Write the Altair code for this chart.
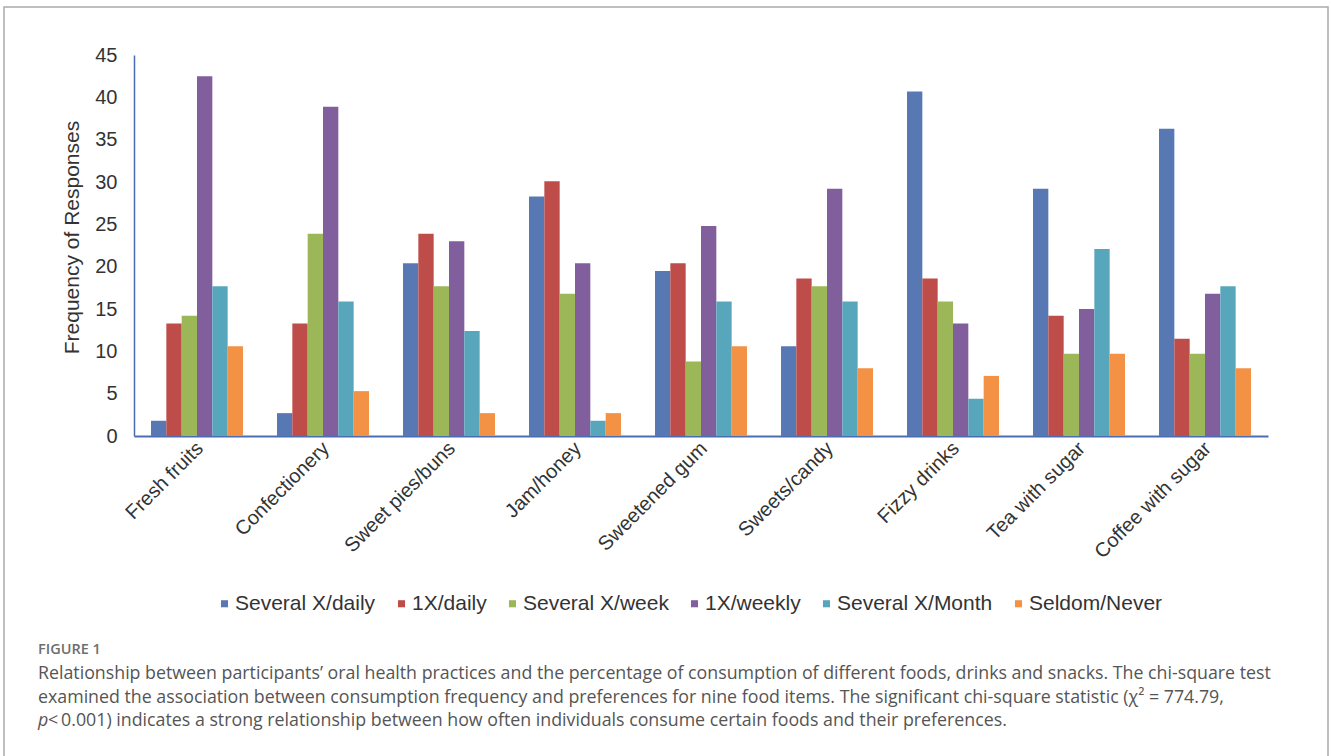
import altair as alt
import pandas as pd

foods = ["Fresh fruits", "Confectionery", "Sweet pies/buns", "Jam/honey", "Sweetened gum",
         "Sweets/candy", "Fizzy drinks", "Tea with sugar", "Coffee with sugar"]
frequencies = ["Several X/daily", "1X/daily", "Several X/week", "1X/weekly",
               "Several X/Month", "Seldom/Never"]

several_daily = [1.8, 2.7, 20.4, 28.3, 19.5, 10.6, 40.7, 29.2, 36.3]
once_daily = [13.3, 13.3, 23.9, 30.1, 20.4, 18.6, 18.6, 14.2, 11.5]
several_week = [14.2, 23.9, 17.7, 16.8, 8.8, 17.7, 15.9, 9.7, 9.7]
once_weekly = [42.5, 38.9, 23.0, 20.4, 24.8, 29.2, 13.3, 15.0, 16.8]
several_month = [17.7, 15.9, 12.4, 1.8, 15.9, 15.9, 4.4, 22.1, 17.7]
seldom_never = [10.6, 5.3, 2.7, 2.7, 10.6, 8.0, 7.1, 9.7, 8.0]

y_ticks = [0, 5, 10, 15, 20, 25, 30, 35, 40, 45]

colors = ["#5878B4", "#BE4D4A", "#9BB757", "#805F9C", "#58A6BC", "#F39145"]

fig_label = "FIGURE 1"
caption_line1 = ("Relationship between participants\u2019 oral health practices and the percentage of "
                 "consumption of different foods, drinks and snacks. The chi-square test")
caption_line2 = ("examined the association between consumption frequency and preferences for nine "
                 "food items. The significant chi-square statistic (\u03c7\u00b2 = 774.79,")
caption_line3_p = "p"
caption_line3 = ("\u2009<\u20090.001) indicates a strong relationship between how often individuals "
                 "consume certain foods and their preferences.")

series = [several_daily, once_daily, several_week, once_weekly, several_month, seldom_never]
rows = []
for freq, vals in zip(frequencies, series):
    for food, v in zip(foods, vals):
        rows.append({"food": food, "freq": freq, "value": v})
df = pd.DataFrame(rows)

AX = "#4A6DB3"
FONT = "Liberation Sans"
CAP_FONT = "Open Sans"

bars = alt.Chart(df).mark_bar().encode(
    x=alt.X("food:N", sort=foods, title=None,
            scale=alt.Scale(paddingInner=0.27, paddingOuter=0.135),
            axis=alt.Axis(labelAngle=-45, labelAlign="right", labelBaseline="middle",
                          labelFontSize=20, labelFont=FONT, labelColor="#333333",
                          labelPadding=9, labelOffset=3, ticks=False,
                          domainColor=AX, domainWidth=2, grid=False, labelLimit=300)),
    xOffset=alt.XOffset("freq:N", sort=frequencies, scale=alt.Scale(paddingInner=0)),
    y=alt.Y("value:Q", title="Frequency of Responses",
            scale=alt.Scale(domain=[0, 45], nice=False),
            axis=alt.Axis(values=y_ticks, ticks=False, grid=False, domainColor=AX,
                          domainWidth=1.5, labelFontSize=20, labelFont=FONT,
                          labelColor="#333333", labelPadding=17, titleFont=FONT,
                          titleFontSize=21, titleFontWeight="normal", titleColor="#333333",
                          titlePadding=12, titleY=182)),
    color=alt.Color("freq:N", sort=frequencies,
                    scale=alt.Scale(domain=frequencies, range=colors),
                    legend=alt.Legend(title=None, orient="none", direction="horizontal",
                                      legendX=80, legendY=538, symbolType="square",
                                      symbolSize=50, symbolStrokeWidth=0,
                                      labelFontSize=21, labelFont=FONT,
                                      labelColor="#333333", labelOffset=0,
                                      columnPadding=15, padding=0, labelLimit=400)),
)

one = pd.DataFrame({"t": [""]})

frame = alt.Chart(one).mark_rect(filled=False, stroke="#AAAAAA", strokeWidth=1.5).encode(
    x=alt.value(-130), x2=alt.value(1194), y=alt.value(-48), y2=alt.value(730))


def text_layer(txt, x, y, size, color, weight="normal", style="normal"):
    return alt.Chart(pd.DataFrame({"t": [txt]})).mark_text(
        align="left", baseline="middle", font=CAP_FONT, fontSize=size, color=color,
        fontWeight=weight, fontStyle=style).encode(
        text="t:N", x=alt.value(x), y=alt.value(y))


cap_x = 38 - 134
layers = [
    frame,
    bars,
    text_layer(fig_label, cap_x, 650 - 55, 14.5, "#6E6E6E", weight=600),
    text_layer(caption_line1, cap_x, 674 - 55, 17.8, "#555555"),
    text_layer(caption_line2, cap_x, 698 - 55, 17.8, "#555555"),
    text_layer(caption_line3_p, cap_x, 721 - 55, 17.8, "#555555", style="italic"),
    text_layer(caption_line3, cap_x + 10, 721 - 55, 17.8, "#555555"),
]

chart = alt.layer(*layers).properties(
    width=1134, height=381,
    padding={"left": 134, "top": 55, "right": 63, "bottom": 320},
    autosize="none",
    background="white",
).configure_view(stroke=None)

chart.save("out.html", embed_options={"renderer": "svg", "actions": False})
